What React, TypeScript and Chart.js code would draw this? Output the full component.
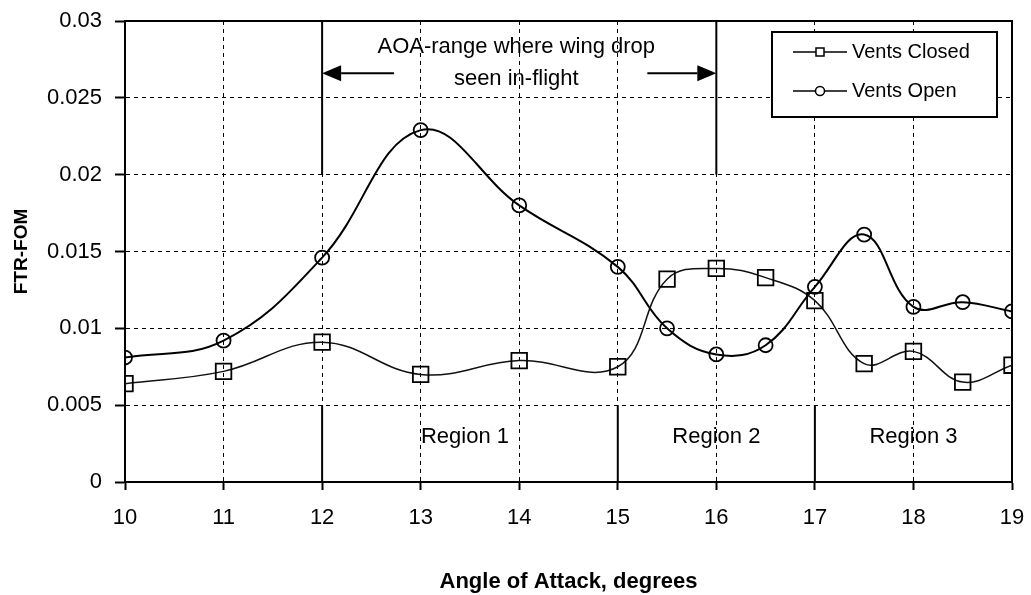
import React, { useEffect, useRef } from 'react';
import { Chart, registerables } from 'chart.js';

Chart.register(...registerables);

// ---------- data ----------
const angles = [10, 11, 12, 13, 14, 15, 15.5, 16, 16.5, 17, 17.5, 18, 18.5, 19];
const ventsClosed = [0.0064, 0.0072, 0.0091, 0.007, 0.0079, 0.0075, 0.0132, 0.0139, 0.0133, 0.0118, 0.0077, 0.0085, 0.0065, 0.0076];
const ventsOpen = [0.0081, 0.0092, 0.0146, 0.0229, 0.018, 0.014, 0.01, 0.0083, 0.0089, 0.0127, 0.0161, 0.0114, 0.0117, 0.0111];
const seriesLabels = ['Vents Closed', 'Vents Open'];
const yTickLabels = ['0', '0.005', '0.01', '0.015', '0.02', '0.025', '0.03'];
const xTitle = 'Angle of Attack, degrees';
const yTitle = 'FTR-FOM';

// region labels (data coordinates)
const regionLabels = ['Region 1', 'Region 2', 'Region 3'];
const regionLabelX = [13.45, 16, 18];
const regionLabelY = 0.0029;

// solid vertical segments (data coordinates)
const segX = [12, 12, 15, 16, 17];
const segFrom = [0.02, 0, 0, 0.02, 0];
const segTo = [0.03, 0.005, 0.005, 0.03, 0.005];

// annotation
const noteLines = ['AOA-range where wing drop', 'seen in-flight'];
const noteX = 13.97;
const noteY = [0.0283, 0.0262];
const arrowY = 0.0266;
const arrowFrom = [12.73, 15.3];
const arrowTo = [12, 16];

const FONT = "'Liberation Sans', Arial, Helvetica, sans-serif";

export default function App() {
  const ref = useRef<HTMLCanvasElement>(null);

  useEffect(() => {
    const canvas = ref.current;
    if (!canvas) return;

    const overlay = {
      id: 'overlay',
      beforeDatasetsDraw(chart: any) {
        const { ctx, chartArea, scales } = chart;
        const xs = scales.x;
        const ys = scales.y;
        ctx.save();
        ctx.strokeStyle = '#000';
        ctx.lineWidth = 2;
        ctx.setLineDash([]);
        for (let i = 0; i < segX.length; i++) {
          const px = xs.getPixelForValue(segX[i]);
          ctx.beginPath();
          ctx.moveTo(px, ys.getPixelForValue(segFrom[i]));
          ctx.lineTo(px, ys.getPixelForValue(segTo[i]));
          ctx.stroke();
        }
        ctx.strokeRect(chartArea.left, chartArea.top, chartArea.right - chartArea.left, chartArea.bottom - chartArea.top);
        ctx.restore();
      },
      afterDatasetsDraw(chart: any) {
        const { ctx, scales } = chart;
        const xs = scales.x;
        const ys = scales.y;
        ctx.save();
        ctx.fillStyle = '#000';
        ctx.strokeStyle = '#000';
        ctx.font = `22px ${FONT}`;
        ctx.textAlign = 'center';
        ctx.textBaseline = 'middle';
        for (let i = 0; i < regionLabels.length; i++) {
          ctx.fillText(regionLabels[i], xs.getPixelForValue(regionLabelX[i]), ys.getPixelForValue(regionLabelY));
        }
        for (let i = 0; i < noteLines.length; i++) {
          ctx.fillText(noteLines[i], xs.getPixelForValue(noteX), ys.getPixelForValue(noteY[i]));
        }
        // arrows
        const ay = ys.getPixelForValue(arrowY);
        ctx.lineWidth = 2;
        for (let i = 0; i < arrowFrom.length; i++) {
          const x0 = xs.getPixelForValue(arrowFrom[i]);
          const x1 = xs.getPixelForValue(arrowTo[i]);
          const dir = x1 > x0 ? 1 : -1;
          const head = 19;
          ctx.beginPath();
          ctx.moveTo(x0, ay);
          ctx.lineTo(x1 - dir * head, ay);
          ctx.stroke();
          ctx.beginPath();
          ctx.moveTo(x1, ay);
          ctx.lineTo(x1 - dir * head, ay - 8);
          ctx.lineTo(x1 - dir * head, ay + 8);
          ctx.closePath();
          ctx.fill();
        }
        ctx.restore();
      },
      afterDraw(chart: any) {
        const { ctx, chartArea } = chart;
        const bw = 225;
        const bh = 85;
        const bx = chartArea.right - 15 - bw;
        const by = chartArea.top + 11;
        ctx.save();
        ctx.fillStyle = '#fff';
        ctx.fillRect(bx, by, bw, bh);
        ctx.strokeStyle = '#000';
        ctx.lineWidth = 2;
        ctx.strokeRect(bx, by, bw, bh);
        chart.data.datasets.forEach((ds: any, i: number) => {
          const cy = by + 20 + i * 39;
          ctx.lineWidth = 1.5;
          ctx.strokeStyle = '#000';
          ctx.beginPath();
          ctx.moveTo(bx + 21, cy);
          ctx.lineTo(bx + 75, cy);
          ctx.stroke();
          ctx.fillStyle = '#fff';
          ctx.lineWidth = 1.5;
          if (i === 0) {
            ctx.fillRect(bx + 44, cy - 4, 8, 8);
            ctx.strokeRect(bx + 44, cy - 4, 8, 8);
          } else {
            ctx.beginPath();
            ctx.arc(bx + 48, cy, 4.5, 0, Math.PI * 2);
            ctx.fill();
            ctx.stroke();
          }
          ctx.fillStyle = '#000';
          ctx.font = `20px ${FONT}`;
          ctx.textAlign = 'left';
          ctx.textBaseline = 'middle';
          ctx.fillText(ds.label, bx + 80, cy);
        });
        ctx.restore();
      },
    };

    const chart = new Chart(canvas, {
      type: 'line',
      data: {
        datasets: [
          {
            label: seriesLabels[0],
            data: angles.map((x, i) => ({ x, y: ventsClosed[i] })),
            borderColor: '#111',
            borderWidth: 1.5,
            pointStyle: 'rect',
            pointRadius: 11,
            pointBorderWidth: 1.8,
            pointBorderColor: '#000',
            pointBackgroundColor: 'rgba(0,0,0,0)',
            tension: 0.4,
            fill: false,
          },
          {
            label: seriesLabels[1],
            data: angles.map((x, i) => ({ x, y: ventsOpen[i] })),
            borderColor: '#000',
            borderWidth: 2,
            pointStyle: 'circle',
            pointRadius: 7,
            pointBorderWidth: 1.8,
            pointBorderColor: '#000',
            pointBackgroundColor: 'rgba(0,0,0,0)',
            tension: 0.4,
            fill: false,
          },
        ],
      },
      options: {
        responsive: false,
        animation: false,
        layout: { padding: { top: 21, right: 19, left: 0, bottom: 0 } },
        plugins: {
          legend: { display: false },
          tooltip: { enabled: false },
        },
        scales: {
          x: {
            type: 'linear',
            min: 10,
            max: 19,
            afterFit: (s: any) => {
              s.height = 113;
              s.paddingLeft = 0;
              s.paddingRight = 0;
            },
            ticks: {
              stepSize: 1,
              color: '#000',
              padding: 15,
              font: { family: FONT, size: 22 },
              maxRotation: 0,
            },
            grid: {
              color: '#000',
              lineWidth: 1,
              tickLength: 8,
              tickColor: '#000',
              tickWidth: 2,
              tickBorderDash: [],
            },
            border: { display: true, color: '#000', width: 2, dash: [4, 4] },
            title: {
              display: true,
              text: xTitle,
              color: '#000',
              font: { family: FONT, size: 22, weight: 'bold' },
              padding: { top: 0, bottom: 0 },
            },
          },
          y: {
            type: 'linear',
            min: 0,
            max: 0.03,
            afterFit: (s: any) => {
              s.width = 125;
              s.paddingTop = 0;
              s.paddingBottom = 0;
            },
            ticks: {
              stepSize: 0.005,
              color: '#000',
              padding: 13,
              font: { family: FONT, size: 22 },
              callback: (_v: any, i: number) => yTickLabels[i],
            },
            grid: {
              color: '#000',
              lineWidth: 1,
              tickLength: 10,
              tickColor: '#000',
              tickWidth: 2,
              tickBorderDash: [],
            },
            border: { display: true, color: '#000', width: 2, dash: [4, 4] },
            title: {
              display: true,
              text: yTitle,
              color: '#000',
              font: { family: FONT, size: 19, weight: 'bold' },
              padding: { top: 10, bottom: 0 },
            },
          },
        },
      },
      plugins: [overlay],
    } as any);

    return () => chart.destroy();
  }, []);

  return (
    <div style={{ position: 'fixed', left: 0, top: 0, width: 1031, height: 595, background: '#fff' }}>
      <canvas ref={ref} width={1031} height={595} style={{ display: 'block' }} />
    </div>
  );
}
